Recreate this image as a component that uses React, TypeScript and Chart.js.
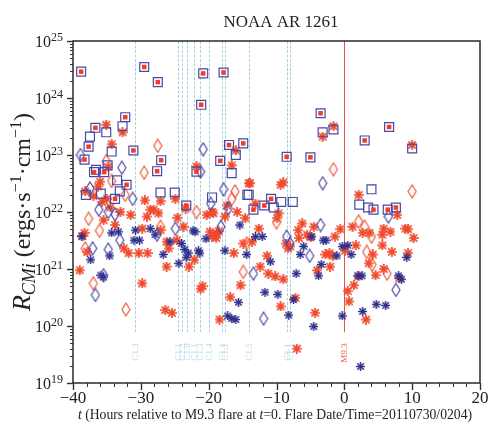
import React, { useEffect, useRef } from "react";
import { Chart, registerables } from "chart.js";
Chart.register(...registerables);

// ---------- data ----------
const chartTitle = "NOAA AR 1261";
const xMajorTicks = [-40, -30, -20, -10, 0, 10, 20];
const yDecadeExps = [19, 20, 21, 22, 23, 24, 25];
const flareTimes = [-30.8, -24.5, -23.9, -23.2, -22.2, -21.3, -19.9, -18.0, -17.6, -14.0, -8.4, -8.0];
const flareLabels = ["C1.3", "C1.1", "C2.2", "C1.0", "C1.1", "C1.3", "C1.4", "C1.1", "C1.2", "C1.5", "C6.1", "C1.1"];
const mainFlareTime = 0;
const mainFlareLabel = "M9.3";
const flareLineTop = 1e25;
const flareLineBottom = 7.8e19;

const blueSquares: [number, number][] = [
  [-38.8, 2.9e24], [-29.5, 3.5e24], [-27.5, 1.9e24], [-20.8, 2.7e24], [-17.8, 2.8e24],
  [-21.1, 7.6e23], [-32.3, 4.6e23], [-36.7, 3.0e23], [-32.7, 3.2e23], [-35.1, 2.5e23],
  [-37.5, 2.1e23], [-37.7, 1.4e23], [-38.3, 8.3e22], [-34.3, 1.15e23], [-31.1, 1.2e23],
  [-27.0, 8.1e22], [-27.6, 5.2e22], [-34.9, 6.6e22], [-36.9, 5.0e22], [-35.4, 5.0e22],
  [-36.6, 5.5e22], [-33.5, 3.6e22], [-32.1, 3.0e22], [-38.1, 2.0e22], [-35.9, 2.1e22],
  [-33.1, 2.3e22], [-33.8, 1.7e22], [-27.1, 2.2e22], [-25.0, 2.2e22], [-23.3, 1.3e22],
  [-21.8, 5.1e22], [-18.3, 7.9e22], [-16.6, 4.8e22], [-17.0, 1.5e23], [-16.0, 1.0e23],
  [-14.9, 1.6e23], [-19.5, 1.8e22], [-14.3, 2.0e22], [-3.5, 5.4e23], [-3.2, 2.5e23],
  [-1.6, 2.8e23], [-8.5, 9.3e22], [-5.0, 9.1e22], [3.0, 1.8e23], [6.6, 3.1e23],
  [10.0, 1.3e23], [4.0, 2.5e22], [2.2, 1.35e22], [3.5, 1.2e22], [4.3, 1.1e22],
  [7.6, 1.2e22], [6.4, 1.1e22], [-7.6, 1.5e22], [-9.3, 1.5e22], [-10.8, 1.7e22],
  [-11.8, 1.3e22], [-14.1, 2.0e22], [-13.4, 1.1e22], [-10.4, 1.2e22],
];

const redSquares: [number, number][] = [
  [-38.8, 2.9e24], [-29.5, 3.5e24], [-27.5, 1.9e24], [-20.8, 2.7e24], [-17.8, 2.8e24],
  [-21.1, 7.6e23], [-32.3, 4.6e23], [-36.7, 3.0e23], [-37.7, 1.4e23], [-38.3, 8.3e22],
  [-31.1, 1.2e23], [-27.0, 8.1e22], [-27.6, 5.2e22], [-36.9, 5.0e22], [-35.4, 5.0e22],
  [-32.1, 3.0e22], [-33.8, 1.7e22], [-23.3, 1.3e22], [-21.8, 5.1e22], [-18.3, 7.9e22],
  [-17.0, 1.5e23], [-14.9, 1.6e23], [-3.5, 5.4e23], [-8.5, 9.3e22], [-5.0, 9.1e22],
  [3.0, 1.8e23], [6.6, 3.1e23], [4.3, 1.1e22], [7.6, 1.2e22], [6.4, 1.1e22],
  [-10.8, 1.7e22], [-11.8, 1.3e22], [-13.4, 1.1e22],
];

const redStars: [number, number][] = [
  [-35.1, 3.4e23], [-32.7, 2.5e23], [-34.3, 1.55e23], [-16.0, 1.2e23], [-16.6, 6.6e22],
  [-21.8, 6.3e22], [-36.0, 3.4e22], [-36.3, 2.8e22], [-34.8, 6.2e22], [-38.2, 2.3e22],
  [-37.0, 1.9e22], [-35.7, 1.5e22], [-29.4, 1.6e22], [-27.1, 1.55e22], [-24.9, 1.7e22],
  [-28.6, 1.1e22], [-28.1, 1.1e22], [-19.5, 1.0e22], [-15.8, 1.0e22], [-33.0, 1.0e22],
  [-13.9, 3.2e22], [-17.3, 1.3e22], [-13.1, 1.4e22], [-39.0, 9.5e20], [-38.3, 4.3e21],
  [-38.6, 3.8e21], [-37.9, 2.0e21], [-35.5, 7.2e21], [-33.8, 5.9e21], [-34.5, 1.2e22],
  [-32.5, 2.3e21], [-31.8, 1.9e21], [-30.3, 1.9e21], [-29.0, 1.9e21], [-29.8, 5.1e21],
  [-29.8, 5.6e20], [-29.1, 8.3e21], [-27.4, 9.5e21], [-27.1, 4.8e21], [-26.2, 3.0e21],
  [-25.9, 2.3e21], [-26.2, 1.1e21], [-26.4, 1.9e20], [-25.4, 1.7e20], [-24.6, 7.9e21],
  [-23.7, 5.5e21], [-23.4, 1.15e22], [-22.9, 1.1e21], [-22.1, 1.45e21], [-24.7, 3.2e21],
  [-21.2, 4.5e20], [-20.9, 5.0e20], [-20.3, 8.9e21], [-19.3, 9.5e21], [-19.8, 4.5e21],
  [-19.2, 4.0e21], [-18.8, 4.2e21], [-18.5, 4.6e21], [-19.5, 3.7e21], [-18.9, 3.5e21],
  [-17.6, 8.3e21], [-18.4, 1.3e20], [-16.8, 3.2e20], [-16.3, 1.9e21], [-15.3, 5.2e20],
  [-14.9, 2.8e21], [-14.6, 7.8e21], [-12.6, 5.1e21], [-13.6, 3.0e21], [-11.4, 1.7e21],
  [-12.4, 1.1e21], [-11.2, 8.3e20], [-10.2, 7.4e20], [-9.0, 6.6e20], [-9.7, 9.5e21],
  [-9.9, 7.8e21], [-9.4, 2.2e20], [-7.2, 3.1e20], [-8.6, 2.8e21], [-8.0, 2.5e21],
  [-8.3, 2.3e21], [-6.8, 4.8e21], [-6.2, 6.3e21], [-5.5, 4.0e21], [-5.0, 3.6e21],
  [-6.7, 3.5e21], [-4.5, 5.5e21], [-4.0, 9.5e20], [-4.3, 1.7e20], [-2.8, 1.8e21],
  [-2.2, 1.9e21], [-1.7, 1.7e21], [-2.1, 1.1e21], [-1.4, 3.7e21], [-0.6, 5.0e21],
  [0.1, 2.1e21], [0.5, 4.1e20], [0.7, 2.7e20], [1.4, 5.2e20], [1.2, 5.5e21],
  [1.7, 2.6e21], [2.1, 7.4e20], [3.2, 1.3e20], [2.7, 4.3e21], [3.7, 4.3e21],
  [3.6, 1.26e21], [4.2, 1.8e21], [4.6, 7.8e20], [5.6, 2.6e21], [5.6, 4.0e21],
  [5.8, 5.1e21], [6.8, 4.5e21], [7.0, 2.0e21], [7.8, 8.9e21], [9.0, 5.1e21],
  [9.4, 5.0e21], [10.2, 3.5e21], [9.4, 1.9e21], [8.1, 6.9e20], [5.8, 1.0e21],
  [-7.0, 4.0e19], [-14.1, 3.2e22], [-9.4, 3.0e22], [-9.0, 3.3e22], [2.1, 2.0e22],
  [-31.5, 8.9e21], [-35.0, 1.7e22], [-1.6, 3.2e23], [-3.2, 2.1e23], [10.0, 1.5e23],
];

const blueStars: [number, number][] = [
  [-38.7, 3.7e21], [-37.4, 1.45e21], [-35.9, 7.8e20], [-35.5, 7.2e20], [-34.3, 4.3e21],
  [-33.3, 4.5e21], [-34.6, 1.7e21], [-31.0, 3.2e21], [-30.2, 3.2e21], [-30.8, 4.8e21],
  [-28.6, 5.1e21], [-27.9, 4.0e21], [-26.7, 1.8e21], [-25.7, 3.0e21], [-24.4, 1.26e21],
  [-24.0, 2.8e21], [-23.5, 2.2e21], [-23.0, 1.9e21], [-23.3, 1.6e21], [-22.3, 4.7e21],
  [-22.0, 4.5e21], [-21.5, 2.1e21], [-21.3, 1.9e21], [-20.4, 3.4e21], [-17.6, 2.1e21],
  [-15.6, 2.6e20], [-17.2, 1.5e20], [-16.6, 1.35e20], [-16.0, 1.3e20], [-15.4, 5.9e21],
  [-14.4, 1.8e21], [-13.1, 3.7e21], [-12.1, 3.7e21], [-11.7, 3.9e20], [-9.8, 3.6e20],
  [-7.5, 2.9e20], [-8.2, 1.55e20], [-10.9, 1.35e21], [-7.1, 8.3e20], [-6.5, 1.8e21],
  [-6.0, 2.5e21], [-4.8, 3.7e21], [-3.1, 3.2e21], [-2.7, 3.2e21], [-3.4, 1.2e21],
  [-3.8, 7.6e20], [-4.5, 9.8e19], [-1.1, 1.7e21], [-0.3, 2.5e21], [0.5, 2.6e21],
  [-0.3, 1.5e20], [1.0, 1.8e21], [2.0, 7.6e20], [2.6, 7.6e20], [2.7, 1.8e20],
  [4.7, 2.4e20], [6.1, 2.3e20], [8.0, 7.6e20], [8.4, 6.6e20], [9.2, 1.6e21],
  [2.4, 1.95e19],
];

const redDiamonds: [number, number][] = [
  [-27.5, 1.45e23], [-29.5, 4.9e22], [-35.1, 7.8e22], [-34.3, 3.5e22], [-32.3, 2.0e22],
  [-16.1, 2.3e22], [-16.6, 1.7e22], [-21.8, 1.0e22], [-37.7, 7.6e21], [-36.1, 4.7e21],
  [-38.2, 2.3e21], [-37.0, 5.6e20], [-32.2, 1.95e20], [-14.9, 8.9e20], [-27.1, 5.5e21],
  [-10.0, 6.6e21], [-14.4, 2.8e21], [2.1, 6.8e21], [3.0, 5.5e21], [4.0, 3.7e21],
  [3.3, 2.0e21], [4.1, 1.2e21], [6.3, 8.3e20], [10.0, 2.3e22], [-1.6, 5.6e22],
];

const blueDiamonds: [number, number][] = [
  [-38.9, 1.0e23], [-32.8, 6.0e22], [-20.8, 1.26e23], [-21.2, 5.1e22], [-17.8, 2.5e22],
  [-17.1, 1.15e22], [-37.5, 2.6e22], [-31.2, 1.7e22], [-19.7, 1.4e22], [-36.2, 1.1e22],
  [-34.8, 1.0e22], [-33.8, 9.1e21], [-33.1, 3.2e21], [-37.1, 2.3e21], [-34.8, 2.2e21],
  [-35.5, 7.8e20], [-36.7, 3.5e20], [-27.6, 4.0e21], [-24.9, 5.1e21], [-18.2, 5.5e21],
  [-13.4, 8.3e20], [-11.9, 1.35e20], [-8.5, 3.7e21], [-8.0, 2.8e21], [-5.1, 1.7e21],
  [-3.5, 5.9e21], [6.5, 8.3e21], [7.6, 4.3e20], [-3.2, 3.2e22],
];

// ---------- colours ----------
const RED = "#f04a2c";
const BLUE = "#4848a6";
const DARK_BLUE = "#2f2f8c";
const CYAN = "#a4d2de";
const FONT = "'Liberation Serif', 'Times New Roman', serif";

function toXY(arr: [number, number][]) {
  return arr.map(([x, y]) => ({ x, y }));
}

function makeStar(color: string, size: number, lw: number, dot: number) {
  const c = document.createElement("canvas");
  c.width = size;
  c.height = size;
  const g = c.getContext("2d")!;
  const m = size / 2;
  const r = size / 2 - 0.5;
  g.strokeStyle = color;
  g.fillStyle = color;
  g.lineWidth = lw;
  g.lineCap = "round";
  for (let k = 0; k < 4; k++) {
    const a = (k * Math.PI) / 4;
    g.beginPath();
    g.moveTo(m - r * Math.cos(a), m - r * Math.sin(a));
    g.lineTo(m + r * Math.cos(a), m + r * Math.sin(a));
    g.stroke();
  }
  g.beginPath();
  g.arc(m, m, dot, 0, Math.PI * 2);
  g.fill();
  return c;
}

function makeDiamond(color: string, w: number, h: number, lw: number) {
  const c = document.createElement("canvas");
  c.width = w;
  c.height = h;
  const g = c.getContext("2d")!;
  g.strokeStyle = color;
  g.lineWidth = lw;
  g.beginPath();
  g.moveTo(w / 2, 1);
  g.lineTo(w - 1, h / 2);
  g.lineTo(w / 2, h - 1);
  g.lineTo(1, h / 2);
  g.closePath();
  g.stroke();
  return c;
}

function drawRich(ctx: CanvasRenderingContext2D, segs: { t: string; f: string; dy?: number }[], cx: number, y: number) {
  let total = 0;
  const ws = segs.map((s) => {
    ctx.font = s.f;
    const w = ctx.measureText(s.t).width;
    total += w;
    return w;
  });
  let x = cx - total / 2;
  ctx.textAlign = "left";
  ctx.textBaseline = "alphabetic";
  segs.forEach((s, i) => {
    ctx.font = s.f;
    ctx.fillText(s.t, x, y + (s.dy || 0));
    x += ws[i];
  });
}

const decorPlugin = {
  id: "decor",
  beforeDatasetsDraw(chart: any) {
    const { ctx, scales } = chart;
    const x = scales.x;
    const y = scales.y;
    const yTop = y.getPixelForValue(flareLineTop);
    const yBot = y.getPixelForValue(flareLineBottom);
    ctx.save();
    ctx.lineWidth = 1;
    ctx.setLineDash([3, 1.5]);
    ctx.strokeStyle = CYAN;
    flareTimes.forEach((t, i) => {
      const px = Math.round(x.getPixelForValue(t)) + 0.5;
      ctx.beginPath();
      ctx.moveTo(px, yTop);
      ctx.lineTo(px, yBot);
      ctx.stroke();
      ctx.save();
      ctx.translate(px, 352);
      ctx.rotate(-Math.PI / 2);
      ctx.fillStyle = "#b2dae4";
      ctx.font = `9px ${FONT}`;
      ctx.textAlign = "center";
      ctx.textBaseline = "middle";
      ctx.fillText(flareLabels[i], 0, 0);
      ctx.restore();
    });
    ctx.setLineDash([]);
    const mx = Math.round(x.getPixelForValue(mainFlareTime)) + 0.5;
    ctx.strokeStyle = "#e8553f";
    ctx.beginPath();
    ctx.moveTo(mx, yTop);
    ctx.lineTo(mx, yBot);
    ctx.stroke();
    ctx.save();
    ctx.translate(mx, 353);
    ctx.rotate(-Math.PI / 2);
    ctx.fillStyle = "#ee5a44";
    ctx.font = `9px ${FONT}`;
    ctx.textAlign = "center";
    ctx.textBaseline = "middle";
    ctx.fillText(mainFlareLabel, 0, 0);
    ctx.restore();
    ctx.restore();
  },
  afterDatasetsDraw(chart: any) {
    const { ctx, chartArea: a, scales } = chart;
    const x = scales.x;
    const y = scales.y;
    ctx.save();
    // frame
    ctx.strokeStyle = "#2a2a2a";
    ctx.lineWidth = 1.5;
    ctx.strokeRect(a.left, a.top, a.right - a.left, a.bottom - a.top);
    ctx.lineWidth = 1;
    ctx.strokeStyle = "#333";
    // x ticks
    for (let v = xMajorTicks[0]; v <= xMajorTicks[xMajorTicks.length - 1]; v += 2) {
      const px = Math.round(x.getPixelForValue(v)) + 0.5;
      const major = xMajorTicks.includes(v);
      ctx.lineWidth = major ? 1.4 : 1;
      ctx.beginPath();
      ctx.moveTo(px, a.bottom);
      ctx.lineTo(px, a.bottom + (major ? 7 : 4));
      ctx.stroke();
    }
    ctx.fillStyle = "#222";
    ctx.font = `17px ${FONT}`;
    ctx.textAlign = "center";
    ctx.textBaseline = "top";
    xMajorTicks.forEach((v) => {
      const px = x.getPixelForValue(v);
      const lab = v < 0 ? "\u2212" + Math.abs(v) : String(v);
      ctx.fillText(lab, px, a.bottom + 7);
    });
    // y ticks
    yDecadeExps.forEach((e, i) => {
      const py = Math.round(y.getPixelForValue(Math.pow(10, e))) + 0.5;
      ctx.lineWidth = 1.4;
      ctx.beginPath();
      ctx.moveTo(a.left, py);
      ctx.lineTo(a.left - 6, py);
      ctx.stroke();
      if (i < yDecadeExps.length - 1) {
        for (let m = 2; m <= 9; m++) {
          const pm = Math.round(y.getPixelForValue(m * Math.pow(10, e))) + 0.5;
          ctx.lineWidth = 1;
          ctx.beginPath();
          ctx.moveTo(a.left, pm);
          ctx.lineTo(a.left - 3, pm);
          ctx.stroke();
        }
      }
      ctx.fillStyle = "#222";
      ctx.textBaseline = "middle";
      ctx.textAlign = "right";
      ctx.font = `16px ${FONT}`;
      ctx.fillText("10", 51, py + 1);
      ctx.textAlign = "left";
      ctx.textBaseline = "alphabetic";
      ctx.font = `12px ${FONT}`;
      ctx.fillText(String(e), 51, py - 1);
    });
    // title
    ctx.fillStyle = "#222";
    ctx.font = `17px ${FONT}`;
    ctx.textAlign = "center";
    ctx.textBaseline = "middle";
    ctx.fillText(chartTitle, 281, 23);
    // x title
    ctx.fillStyle = "#222";
    drawRich(
      ctx,
      [
        { t: "t", f: `italic 13.7px ${FONT}` },
        { t: " (Hours relative to M9.3 flare at ", f: `13.7px ${FONT}` },
        { t: "t", f: `italic 13.7px ${FONT}` },
        { t: "=0. Flare Date/Time=20110730/0204)", f: `13.7px ${FONT}` },
      ],
      275,
      419
    );
    // y title
    ctx.save();
    ctx.translate(22, 212);
    ctx.rotate(-Math.PI / 2);
    drawRich(
      ctx,
      [
        { t: "R", f: `italic 26px ${FONT}` },
        { t: "CMi", f: `italic 18px ${FONT}`, dy: 5 },
        { t: " (ergs\u00b7s", f: `24px ${FONT}` },
        { t: "\u22121", f: `16px ${FONT}`, dy: -9 },
        { t: "\u00b7cm", f: `24px ${FONT}` },
        { t: "\u22121", f: `16px ${FONT}`, dy: -9 },
        { t: ")", f: `24px ${FONT}` },
      ],
      0,
      8
    );
    ctx.restore();
    ctx.restore();
  },
};

export default function App() {
  const ref = useRef<HTMLCanvasElement>(null);
  useEffect(() => {
    const canvas = ref.current!;
    const redStarImg = makeStar(RED, 10, 1.7, 2.4);
    const blueStarImg = makeStar(DARK_BLUE, 9, 1.5, 1.8);
    const redDiaImg = makeDiamond("#f2583a", 10, 15, 1.2);
    const blueDiaImg = makeDiamond("#4a4aa8", 10, 15, 1.2);
    const chart = new Chart(canvas, {
      type: "scatter",
      data: {
        datasets: [
          {
            label: "red squares",
            data: toXY(redSquares),
            pointStyle: "rect",
            pointRadius: 3.2,
            backgroundColor: "#f03c28",
            borderColor: "#f03c28",
            borderWidth: 0,
          },
          {
            label: "blue squares",
            data: toXY(blueSquares),
            pointStyle: "rect",
            pointRadius: 6.3,
            backgroundColor: "rgba(0,0,0,0)",
            borderColor: BLUE,
            borderWidth: 1.2,
          },
          {
            label: "blue diamonds",
            data: toXY(blueDiamonds),
            pointStyle: blueDiaImg as any,
          },
          {
            label: "red diamonds",
            data: toXY(redDiamonds),
            pointStyle: redDiaImg as any,
          },
          {
            label: "blue stars",
            data: toXY(blueStars),
            pointStyle: blueStarImg as any,
          },
          {
            label: "red stars",
            data: toXY(redStars),
            pointStyle: redStarImg as any,
          },
        ],
      },
      options: {
        responsive: false,
        animation: false,
        layout: { padding: { left: 73, top: 41, right: 11, bottom: 48 } },
        plugins: { legend: { display: false }, tooltip: { enabled: false }, title: { display: false } },
        scales: {
          x: { type: "linear", min: -40, max: 20, display: false },
          y: { type: "logarithmic", min: 1e19, max: 1e25, display: false },
        },
        elements: { point: { hoverRadius: 0 } },
      },
      plugins: [decorPlugin],
    });
    return () => chart.destroy();
  }, []);
  return (
    <div style={{ position: "fixed", left: 0, top: 0, width: 491, height: 431, background: "#fff" }}>
      <canvas ref={ref} width={491} height={431} style={{ display: "block" }} />
    </div>
  );
}
